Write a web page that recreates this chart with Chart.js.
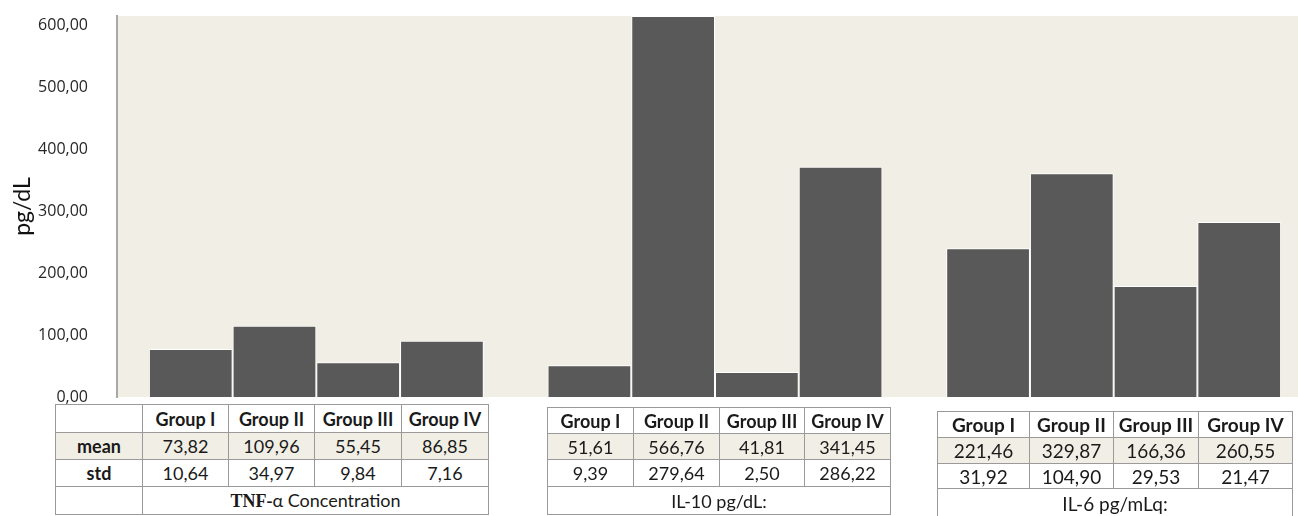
<!DOCTYPE html>
<html>
<head>
<meta charset="utf-8">
<script src="https://cdn.jsdelivr.net/npm/chart.js@4/dist/chart.umd.min.js"></script>
<style>
  html, body { margin: 0; padding: 0; background: #ffffff; overflow: hidden; width: 1298px; height: 516px; }
  #wrap { position: relative; width: 1298px; height: 516px; overflow: hidden; }
  #chart { position: absolute; left: 0; top: 0; }
  table.dt { position: absolute; border-collapse: collapse; table-layout: fixed; background: #ffffff;
             font-family: Lato, "Open Sans", sans-serif; color: #1a1a1a; }
  table.dt td { border: 1px solid #9a9a9a; padding: 0; text-align: center; vertical-align: middle;
                white-space: nowrap; overflow: hidden; }
  table.dt tr.hdr td { font-weight: bold; }
  table.dt tr.mean td { background: #f1efe5; }
  table.dt td.rowlab { font-weight: bold; }
  .serifb { font-family: "Liberation Serif", "DejaVu Serif", serif; font-weight: bold; }
</style>
</head>
<body>
<div id="wrap">
  <canvas id="chart" width="1316" height="516"></canvas>
</div>
<script>
// ---- data ----
const categories = ['TNF-α', 'IL-10', 'IL-6'];
const groups = ['Group I', 'Group II', 'Group III', 'Group IV'];
// bar heights as drawn in the picture (pg/dL)
const barTNF  = [77.5, 115.1, 56.0, 90.9];
const barIL10 = [51.2, 615.0, 40.4, 371.8];
const barIL6  = [240.0, 361.1, 179.2, 282.5];
// y axis
const yTicks = [0, 100, 200, 300, 400, 500, 600];
const yMax = 615;
// table values
const tnfMean  = [73.82, 109.96, 55.45, 86.85];
const tnfStd   = [10.64, 34.97, 9.84, 7.16];
const il10Mean = [51.61, 566.76, 41.81, 341.45];
const il10Std  = [9.39, 279.64, 2.50, 286.22];
const il6Mean  = [221.46, 329.87, 166.36, 260.55];
const il6Std   = [31.92, 104.90, 29.53, 21.47];
const rowLabels = ['mean', 'std'];
const tableTitles = ['TNF-α Concentration', 'IL-10 pg/dL:', 'IL-6 pg/mLq:'];

const fmt = v => v.toFixed(2).replace('.', ',');

// ---- chart ----
const plotBg = {
  id: 'plotBg',
  beforeDraw(chart) {
    const { ctx, chartArea: a } = chart;
    ctx.save();
    ctx.fillStyle = '#f1efe5';
    ctx.fillRect(a.left, a.top, a.right - a.left, a.bottom - a.top);
    ctx.restore();
  }
};

const barsByGroup = [0, 1, 2, 3].map(i => [barTNF[i], barIL10[i], barIL6[i]]);

new Chart(document.getElementById('chart'), {
  type: 'bar',
  data: {
    labels: categories,
    datasets: groups.map((g, i) => ({
      label: g,
      data: barsByGroup[i],
      backgroundColor: '#595959',
      borderColor: '#ffffff',
      borderWidth: 1,
      categoryPercentage: 0.84,
      barPercentage: 1.0
    }))
  },
  options: {
    responsive: false,
    animation: false,
    layout: { padding: { top: 16, bottom: 119, left: 0, right: 3 } },
    plugins: { legend: { display: false }, tooltip: { enabled: false } },
    scales: {
      x: { display: false },
      y: {
        min: 0,
        max: yMax,
        afterFit(scale) { scale.width = 117; scale.paddingTop = 0; scale.paddingBottom = 0; },
        afterBuildTicks(scale) { scale.ticks = yTicks.map(v => ({ value: v })); },
        grid: { display: false, drawTicks: false },
        border: { display: true, color: '#a8a8a8', width: 2 },
        ticks: {
          padding: 29,
          color: '#262626',
          font: { family: 'Open Sans', size: 16 },
          callback: v => fmt(v)
        },
        title: {
          display: true,
          text: 'pg/dL',
          color: '#111111',
          font: { family: 'Lato', size: 23 },
          padding: { top: 9, bottom: 0 }
        }
      }
    }
  },
  plugins: [plotBg]
});

// ---- tables ----
function buildTable(opts) {
  const t = document.createElement('table');
  t.className = 'dt';
  t.style.left = opts.left + 'px';
  t.style.top = opts.top + 'px';
  t.style.fontSize = opts.fontSize + 'px';
  const total = opts.cols.reduce((a, b) => a + b, 0);
  t.style.width = total + 'px';
  const cg = document.createElement('colgroup');
  opts.cols.forEach(w => { const c = document.createElement('col'); c.style.width = w + 'px'; cg.appendChild(c); });
  t.appendChild(cg);
  const hasLab = opts.withRowLabels;
  const mk = (cls, cells, h) => {
    const tr = document.createElement('tr');
    if (cls) tr.className = cls;
    tr.style.height = h + 'px';
    cells.forEach(c => {
      const td = document.createElement('td');
      if (c.cls) td.className = c.cls;
      if (c.span) td.colSpan = c.span;
      if (c.html !== undefined) td.innerHTML = c.html; else td.textContent = c.text;
      tr.appendChild(td);
    });
    t.appendChild(tr);
  };
  const lead = txt => hasLab ? [{ text: txt, cls: 'rowlab' }] : [];
  mk('hdr', lead('').concat(groups.map(g => ({ text: g }))), opts.rows[0]);
  mk('mean', lead(rowLabels[0]).concat(opts.mean.map(v => ({ text: fmt(v) }))), opts.rows[1]);
  mk('', lead(rowLabels[1]).concat(opts.std.map(v => ({ text: fmt(v) }))), opts.rows[2]);
  mk('', lead('').concat([{ html: opts.titleHtml, span: 4 }]), opts.rows[3]);
  document.getElementById('wrap').appendChild(t);
}

const esc = s => s.replace(/&/g, '&amp;').replace(/</g, '&lt;');
const t0 = tableTitles[0];
buildTable({ left: 55, top: 404, fontSize: 18, withRowLabels: true,
  cols: [87, 86, 86, 87, 87], rows: [28, 27, 27, 28],
  mean: tnfMean, std: tnfStd,
  titleHtml: '<span class="serifb">' + esc(t0.slice(0, 4)) + '</span>' + esc(t0.slice(4)) });
buildTable({ left: 547, top: 407, fontSize: 18, withRowLabels: false,
  cols: [86, 86, 85, 86], rows: [26, 26, 27, 28],
  mean: il10Mean, std: il10Std, titleHtml: esc(tableTitles[1]) });
buildTable({ left: 937, top: 411, fontSize: 19, withRowLabels: false,
  cols: [92, 84, 85, 94], rows: [26, 26, 25, 30],
  mean: il6Mean, std: il6Std, titleHtml: esc(tableTitles[2]) });
</script>
</body>
</html>
